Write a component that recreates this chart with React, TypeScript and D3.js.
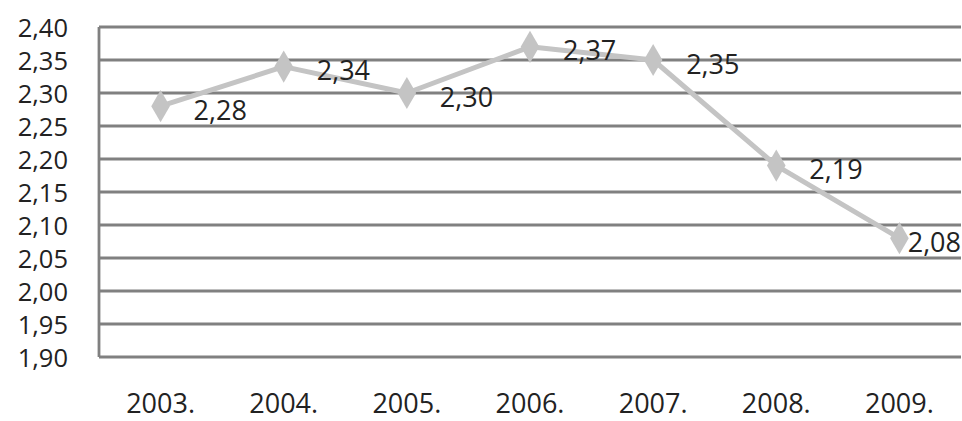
import React from "react";
import * as d3 from "d3";

const categories = ["2003.", "2004.", "2005.", "2006.", "2007.", "2008.", "2009."];
const values = [2.28, 2.34, 2.3, 2.37, 2.35, 2.19, 2.08];
const yTicks = [1.9, 1.95, 2.0, 2.05, 2.1, 2.15, 2.2, 2.25, 2.3, 2.35, 2.4];

const W = 962;
const H = 421;
const margin = { left: 99, right: 1, top: 27, bottom: 64 };
const FONT = "'Open Sans', sans-serif";

const fmt = (v: number) => v.toFixed(2).replace(".", ",");

export default function App() {
  const x = d3
    .scaleBand<string>()
    .domain(categories)
    .range([margin.left, W - margin.right]);
  const y = d3
    .scaleLinear()
    .domain([1.9, 2.4])
    .range([H - margin.bottom, margin.top]);

  const cx = (c: string) => (x(c) as number) + x.bandwidth() / 2;
  const line = d3
    .line<number>()
    .x((_, i) => cx(categories[i]))
    .y((d) => y(d));
  const diamond = d3.symbol().type(d3.symbolDiamond).size(300)();
  const labelW = 58;
  const plotRight = W - margin.right;

  return (
    <svg
      width={W}
      height={H}
      style={{ position: "absolute", left: 0, top: 0, background: "#fff" }}
      fontFamily={FONT}
    >
      {yTicks.map((t) => (
        <g key={t}>
          <line
            x1={margin.left}
            x2={plotRight}
            y1={y(t)}
            y2={y(t)}
            stroke="#808080"
            strokeWidth={2.8}
          />
          <text
            x={68}
            y={y(t)}
            textAnchor="end"
            dominantBaseline="central"
            fontSize={25.5}
            fill="#222"
          >
            {fmt(t)}
          </text>
        </g>
      ))}
      <line
        x1={margin.left}
        x2={margin.left}
        y1={y(2.4)}
        y2={y(1.9)}
        stroke="#808080"
        strokeWidth={2.8}
      />
      {categories.map((c) => (
        <text
          key={c}
          x={cx(c)}
          y={413}
          textAnchor="middle"
          fontSize={27}
          fill="#222"
        >
          {c}
        </text>
      ))}
      <path
        d={line(values) || ""}
        fill="none"
        stroke="#c4c4c4"
        strokeWidth={5}
        strokeLinejoin="round"
      />
      {values.map((v, i) => (
        <path
          key={i}
          d={diamond || ""}
          transform={`translate(${cx(categories[i])},${y(v)})`}
          fill="#c4c4c4"
        />
      ))}
      {values.map((v, i) => {
        const px = cx(categories[i]);
        const fits = px + 33 + labelW <= plotRight;
        return (
          <text
            key={i}
            x={fits ? px + 33 : plotRight}
            y={y(v) + 3}
            textAnchor={fits ? "start" : "end"}
            dominantBaseline="central"
            fontSize={27}
            fill="#222"
          >
            {fmt(v)}
          </text>
        );
      })}
    </svg>
  );
}
